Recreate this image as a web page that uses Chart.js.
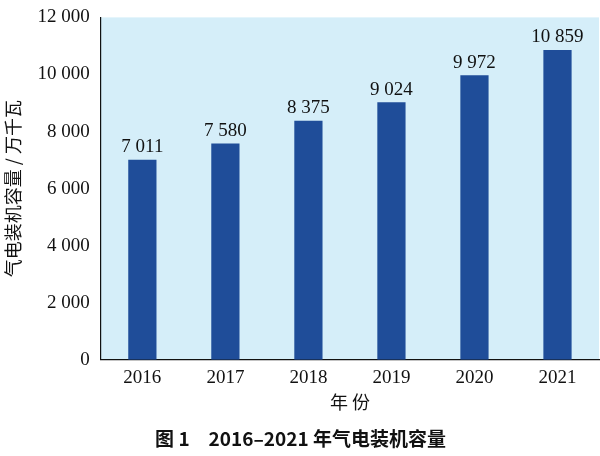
<!DOCTYPE html>
<html><head><meta charset="utf-8">
<script src="https://cdn.jsdelivr.net/npm/chart.js@4"></script>
<style>html,body{margin:0;padding:0;background:#fff}#w{width:600px;height:456px}</style>
</head><body><div id="w"><canvas id="c"></canvas></div>
<script>
const categories = ["2016","2017","2018","2019","2020","2021"];
const capacity = [7011, 7580, 8375, 9024, 9972, 10859];
const yTicks = [0, 2000, 4000, 6000, 8000, 10000, 12000];
const fmt = v => String(v).replace(/\B(?=(\d{3})+(?!\d))/g, " ");
const bgPlugin = {
  id: 'bg',
  beforeDraw(chart) {
    const {ctx, chartArea: a} = chart;
    ctx.save(); ctx.fillStyle = '#d5eef9';
    ctx.fillRect(a.left, a.top, a.right - a.left, a.bottom - a.top);
    ctx.restore();
  },
  afterDatasetsDraw(chart) {
    const {ctx} = chart;
    const meta = chart.getDatasetMeta(0);
    ctx.save(); ctx.fillStyle = '#111'; ctx.font = '19px "Liberation Serif"';
    ctx.textAlign = 'center'; ctx.textBaseline = 'bottom';
    meta.data.forEach((b, i) => ctx.fillText(fmt(capacity[i]), b.x, b.y - 3));
    ctx.restore();
  }
};
new Chart(document.getElementById('c'), {
  type: 'bar',
  data: { labels: categories, datasets: [{ data: capacity, backgroundColor: '#1f4d99', barPercentage: 0.34, categoryPercentage: 1 }] },
  options: {
    responsive: true, maintainAspectRatio: false, animation: false,
    layout: { padding: { top: 0, right: 1, left: 2 } },
    plugins: {
      legend: { display: false }, tooltip: { enabled: false },
      title: { display: true, position: 'bottom', text: '图 1　2016–2021 年气电装机容量',
        font: { family: '"Noto Sans CJK SC"', size: 19, weight: 'bold' }, color: '#111', padding: { top: 14, bottom: 6 } }
    },
    scales: {
      x: { grid: { display: false, drawTicks: true, tickLength: 5 }, border: { color: '#111', width: 1.2 },
        ticks: { color: '#111', font: { family: '"Liberation Serif"', size: 19 }, padding: 2 },
        title: { display: true, text: '年 份', color: '#111', font: { family: '"Noto Sans CJK SC"', size: 18 }, padding: { top: 0, bottom: 0 } } },
      y: { min: 0, max: 12000, afterBuildTicks: ax => { ax.ticks = yTicks.map(v => ({ value: v })); },
        grid: { display: false, drawTicks: true, tickLength: 5 }, border: { color: '#111', width: 1.2 },
        ticks: { color: '#111', font: { family: '"Liberation Serif"', size: 19 }, callback: v => fmt(v), padding: 6 },
        title: { display: true, text: '气电装机容量 / 万千瓦', color: '#111', font: { family: '"Noto Sans CJK SC"', size: 18 }, padding: { top: 0, bottom: 8 } } }
    }
  },
  plugins: [bgPlugin]
});
</script></body></html>
